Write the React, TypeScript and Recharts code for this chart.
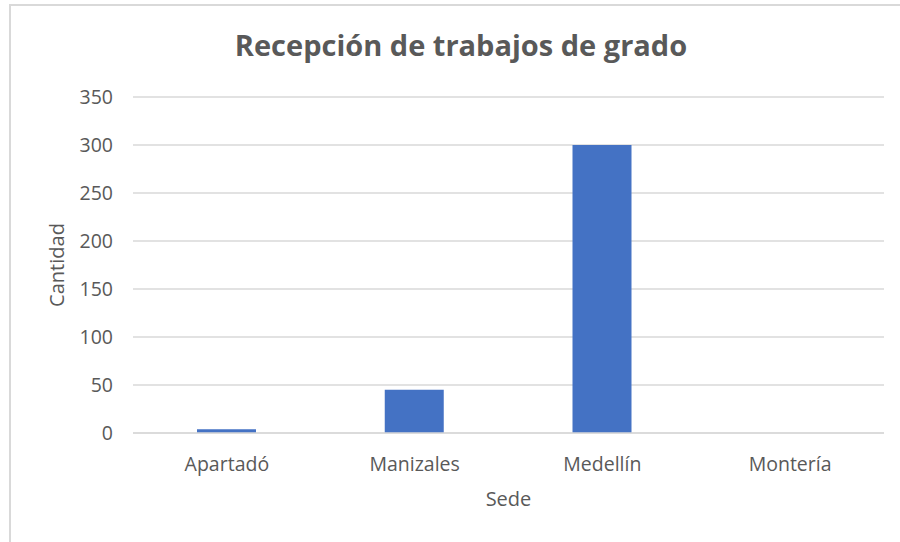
import React from "react";
import { BarChart, Bar, XAxis, YAxis, CartesianGrid } from "recharts";

const sedes = ["Apartadó", "Manizales", "Medellín", "Montería"];
const cantidades = [4, 45, 300, 0];
const yTicks = [0, 50, 100, 150, 200, 250, 300, 350];

const FONT = "'Open Sans', sans-serif";
const TEXT = "#595959";
const GRID = "#d9d9d9";

const data = sedes.map((s, i) => ({ sede: s, cantidad: cantidades[i] }));

export default function App() {
  return (
    <div
      style={{
        position: "fixed",
        left: 0,
        top: 0,
        width: 900,
        height: 542,
        overflow: "hidden",
        background: "#fff",
        fontFamily: FONT,
      }}
    >
      {/* chart frame, cut by the screenshot on the right/bottom */}
      <div
        style={{
          position: "absolute",
          left: 9,
          top: 4,
          width: 1000,
          height: 1000,
          borderLeft: `2px solid ${GRID}`,
          borderTop: `2px solid ${GRID}`,
        }}
      />
      <div
        style={{
          position: "absolute",
          left: 9,
          top: 28,
          width: 904,
          textAlign: "center",
          fontSize: 29,
          lineHeight: "34px",
          fontWeight: 700,
          color: TEXT,
        }}
      >
        Recepción de trabajos de grado
      </div>
      <div style={{ position: "absolute", left: 0, top: 0 }}>
        <BarChart
          width={900}
          height={542}
          data={data}
          margin={{ top: 97, right: 16, bottom: 0, left: 0 }}
        >
          <CartesianGrid vertical={false} stroke={GRID} strokeWidth={1.5} />
          <XAxis
            dataKey="sede"
            height={109}
            axisLine={{ stroke: GRID, strokeWidth: 1.5 }}
            tickLine={false}
            tickSize={0}
            tickMargin={24}
            tick={{ fill: TEXT, fontSize: 19.5, fontFamily: FONT }}
            label={{
              value: "Sede",
              position: "center",
              dy: 11,
              fill: TEXT,
              fontSize: 20,
              fontFamily: FONT,
            }}
          />
          <YAxis
            width={133}
            domain={[0, 350]}
            ticks={yTicks}
            axisLine={false}
            tickLine={false}
            tickSize={0}
            tickMargin={20}
            tick={{ fill: TEXT, fontSize: 19.5, fontFamily: FONT }}
            label={{
              value: "Cantidad",
              angle: -90,
              position: "center",
              dx: -10,
              fill: TEXT,
              fontSize: 20,
              fontFamily: FONT,
            }}
          />
          <Bar dataKey="cantidad" fill="#4472C4" barSize={59} isAnimationActive={false} />
        </BarChart>
      </div>
    </div>
  );
}
